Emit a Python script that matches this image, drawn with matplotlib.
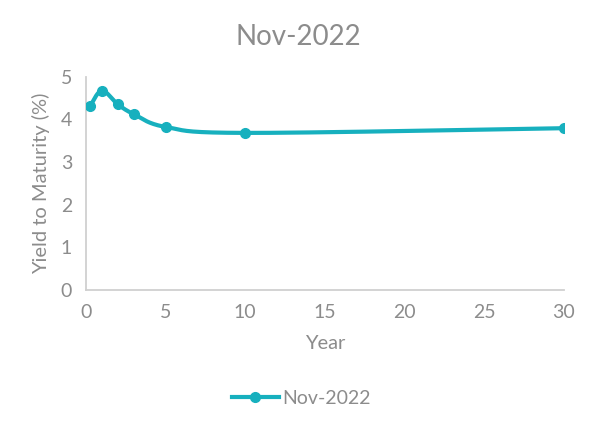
import numpy as np
import matplotlib
matplotlib.use("Agg")
import matplotlib.pyplot as plt
from matplotlib.lines import Line2D

maturity = [0.25, 1, 2, 3, 5, 10, 30]
yields = [4.30, 4.67, 4.35, 4.12, 3.82, 3.68, 3.79]
series_name = "Nov-2022"
x_ticks = [0, 5, 10, 15, 20, 25, 30]
y_ticks = [0, 1, 2, 3, 4, 5]

plt.rcParams['font.family'] = ['Lato', 'DejaVu Sans']
TEXT = '#8C8C8C'
LINE = '#17B0BE'

def smooth(xs, ys, n=40):
    # Catmull-Rom style Bezier smoothing through the data points
    P = np.column_stack([xs, ys]).astype(float)
    out = []
    for i in range(len(P) - 1):
        p0 = P[i - 1] if i > 0 else P[i]
        p1 = P[i]
        p2 = P[i + 1]
        p3 = P[i + 2] if i + 2 < len(P) else P[i + 1]
        c1 = p1 + (p2 - p0) / 6.0
        c2 = p2 - (p3 - p1) / 6.0
        t = np.linspace(0, 1, n)[:, None]
        seg = ((1 - t) ** 3) * p1 + 3 * ((1 - t) ** 2) * t * c1 + 3 * (1 - t) * t ** 2 * c2 + t ** 3 * p2
        out.append(seg if i == 0 else seg[1:])
    s = np.vstack(out)
    return s[:, 0], s[:, 1]

fig = plt.figure(figsize=(5.97, 4.30), dpi=100)
ax = fig.add_axes([0.144, 0.3256, 0.800, 0.4964])

sx, sy = smooth(maturity, yields)
ax.plot(sx, sy, color=LINE, lw=3, solid_capstyle='round', zorder=3)
ax.plot(maturity, yields, 'o', color=LINE, ms=7, zorder=4)

ax.set_xlim(0, 30)
ax.set_ylim(0, 5)
ax.set_xticks(x_ticks)
ax.set_yticks(y_ticks)
ax.tick_params(length=0, labelsize=14, colors=TEXT, pad=10)
for s in ['top', 'right']:
    ax.spines[s].set_visible(False)
for s in ['left', 'bottom']:
    ax.spines[s].set_color('#D0D0D0')
    ax.spines[s].set_linewidth(1.3)

ax.set_xlabel('Year', fontsize=14.5, color=TEXT, labelpad=10)
ax.set_ylabel('Yield to Maturity (%)', fontsize=14.5, color=TEXT, labelpad=8)
fig.text(0.5, 0.915, 'Nov-2022', ha='center', va='center', fontsize=20, color=TEXT)

handle = Line2D([0], [0], color=LINE, lw=3, marker='o', ms=7)
fig.legend([handle], [series_name], loc='center', bbox_to_anchor=(0.505, 0.073),
           frameon=False, fontsize=14, labelcolor=TEXT, handlelength=2.4, handletextpad=0.2)

fig.savefig('out.png', dpi=100)
